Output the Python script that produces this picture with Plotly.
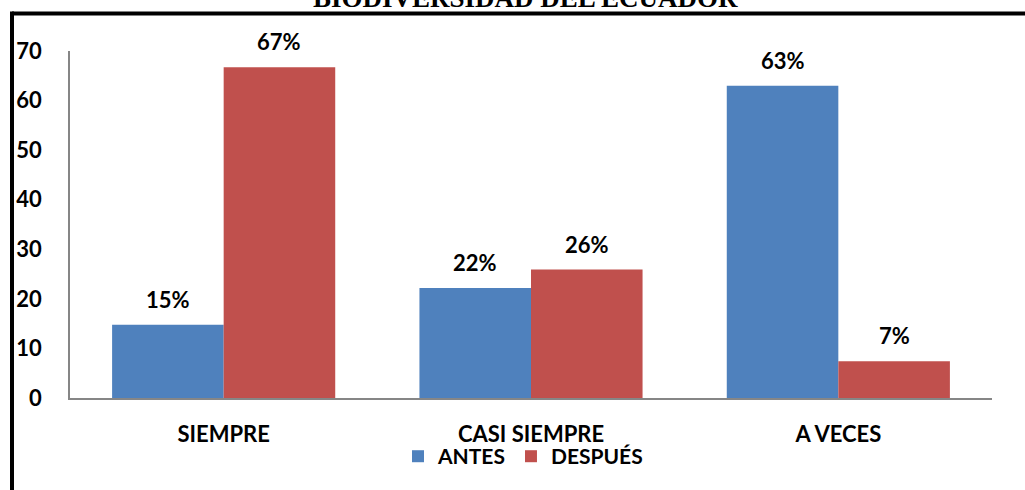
import plotly.graph_objects as go

categories = ["SIEMPRE", "CASI SIEMPRE", "A VECES"]
antes = [14.8, 22.2, 63.0]
despues = [66.7, 25.9, 7.4]
antes_labels = ["15%", "22%", "63%"]
despues_labels = ["67%", "26%", "7%"]
title_text = "BIODIVERSIDAD DEL ECUADOR"

BLUE = "#4F81BD"
RED = "#C0504D"
FONT = dict(family="Lato, Carlito, Calibri, sans-serif", size=22, color="black", weight="bold")
CAT_FONT = dict(family="Lato, Carlito, Calibri, sans-serif", size=22, color="black", weight="bold")
LEG_FONT = dict(family="Lato, Carlito, Calibri, sans-serif", size=21, color="black", weight="bold")

fig = go.Figure()
fig.add_trace(go.Bar(x=categories, y=antes, name="ANTES", marker=dict(color=BLUE, line=dict(width=0))))
fig.add_trace(go.Bar(x=categories, y=despues, name="DESPUÉS", marker=dict(color=RED, line=dict(width=0))))

W, H = 1025, 490
L, R, T, B = 70, 33, 50.5, 91.7
plot_w = W - L - R
plot_h = H - T - B
bargap = 0.274
bar_px = plot_w / len(categories) * (1 - bargap) / 2

annotations = []
for cat, v, lab in zip(categories, antes, antes_labels):
    annotations.append(dict(x=cat, y=v, text=lab, xref="x", yref="y", showarrow=False,
                            xshift=-bar_px / 2, yshift=10, yanchor="bottom", font=FONT))
for cat, v, lab in zip(categories, despues, despues_labels):
    annotations.append(dict(x=cat, y=v, text=lab, xref="x", yref="y", showarrow=False,
                            xshift=bar_px / 2, yshift=10, yanchor="bottom", font=FONT))

def px_x(p):
    return (p - L) / plot_w

def px_y(p):
    return 1 + (T - p) / plot_h

annotations.append(dict(x=px_x(525), y=px_y(-3), xref="paper", yref="paper", text=title_text,
                        showarrow=False, xanchor="center", yanchor="middle",
                        font=dict(family="Liberation Serif, Times New Roman, serif", size=27,
                                  color="black", weight="bold")))

shapes = [
    dict(type="line", xref="paper", yref="paper", x0=px_x(12), x1=px_x(1040), y0=px_y(13), y1=px_y(13),
         line=dict(color="black", width=4)),
    dict(type="line", xref="paper", yref="paper", x0=px_x(12), x1=px_x(12), y0=px_y(11), y1=px_y(500),
         line=dict(color="black", width=4)),
]

fig.update_layout(
    width=W, height=H,
    margin=dict(l=L, r=R, t=T, b=B),
    paper_bgcolor="white", plot_bgcolor="white",
    barmode="group", bargap=bargap, bargroupgap=0,
    showlegend=True,
    legend=dict(orientation="h", x=px_x(523), xanchor="center", y=px_y(457), yanchor="middle",
                font=LEG_FONT, bgcolor="rgba(0,0,0,0)", itemsizing="constant"),
    annotations=annotations,
    shapes=shapes,
    font=FONT,
)
fig.update_xaxes(showline=True, linecolor="#868686", linewidth=2, showgrid=False, ticks="",
                 tickfont=CAT_FONT, ticklabelstandoff=16)
fig.update_yaxes(range=[0, 70], dtick=10, showline=True, linecolor="#868686", linewidth=1.5,
                 showgrid=False, zeroline=False, ticks="", tickfont=FONT, ticklabelstandoff=22)

fig.write_html("out.html", config={"displayModeBar": False},
               post_script="document.body.style.margin='0';document.body.style.overflow='hidden';")
